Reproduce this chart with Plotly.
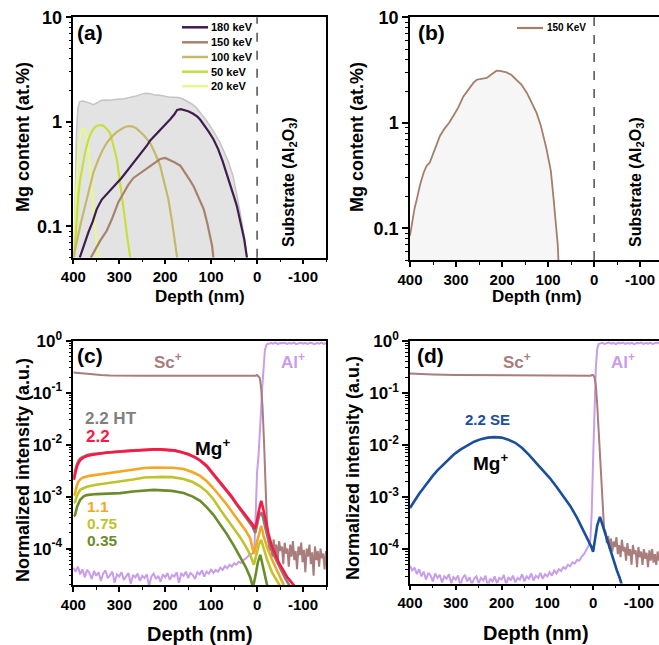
import plotly.graph_objects as go

W, H = 659, 645
FONT = "Liberation Sans, Arial, sans-serif"

# ---------------- (a) SRIM-type Mg profiles (at.%) vs depth (nm) ----------------
env_x = [399, 397, 395, 393, 390, 386, 380, 372, 364, 356, 348, 340, 330, 320, 310, 300, 290, 280, 270, 260,
         250, 242, 232, 222, 212, 202, 192, 182, 172, 162, 152, 142, 132, 122, 112, 102, 92, 82, 72, 62,
         52, 44, 36, 28, 22]
env_y = [0.05, 0.1, 0.3, 0.8, 1.35, 1.55, 1.58, 1.55, 1.5, 1.46, 1.52, 1.6, 1.62, 1.61, 1.63, 1.64, 1.66, 1.7, 1.73, 1.78,
         1.85, 1.87, 1.85, 1.8, 1.79, 1.75, 1.73, 1.72, 1.71, 1.66, 1.58, 1.48, 1.36, 1.2, 1.05, 0.91, 0.78, 0.65, 0.52, 0.41,
         0.3, 0.2, 0.13, 0.08, 0.05]

k180_x = [386, 380, 372, 367, 358, 349, 338, 325, 315, 305, 295, 285, 275, 269, 260, 250, 240, 233, 222, 212,
          202, 196, 188, 180, 174, 166, 158, 150, 140, 130, 124, 115, 105, 95, 85, 75, 66, 58, 50, 44, 36, 28, 22]
k180_y = [0.05, 0.06, 0.077, 0.088, 0.11, 0.146, 0.18, 0.21, 0.235, 0.26, 0.29, 0.33, 0.37, 0.40, 0.45, 0.52, 0.59, 0.66, 0.74, 0.82,
          0.92, 0.98, 1.07, 1.18, 1.3, 1.32, 1.3, 1.26, 1.2, 1.12, 1.05, 0.93, 0.8, 0.68, 0.55, 0.42, 0.32, 0.25, 0.19, 0.156, 0.11, 0.075, 0.05]

k150_x = [362, 352, 342, 327, 315, 302, 290, 280, 269, 255, 240, 225, 211, 200, 190, 180, 167, 155, 145, 138,
          128, 116, 108, 102, 98, 95]
k150_y = [0.05, 0.06, 0.072, 0.091, 0.12, 0.17, 0.21, 0.25, 0.29, 0.32, 0.36, 0.4, 0.44, 0.45, 0.43, 0.41, 0.38, 0.32, 0.27, 0.24,
          0.19, 0.145, 0.105, 0.08, 0.065, 0.05]

k100_x = [400, 394, 389, 383, 378, 371, 364, 356, 345, 335, 327, 315, 305, 298, 290, 280, 270, 262, 255, 245,
          233, 222, 211, 202, 193, 185, 178, 174]
k100_y = [0.05, 0.068, 0.088, 0.11, 0.135, 0.18, 0.25, 0.33, 0.44, 0.55, 0.63, 0.73, 0.8, 0.84, 0.88, 0.91, 0.9, 0.86, 0.81, 0.73,
          0.63, 0.5, 0.38, 0.27, 0.18, 0.11, 0.07, 0.05]

k50_x = [398, 395, 392, 389, 385, 380, 374, 367, 360, 354, 349, 342, 335, 328, 320, 313, 305, 300, 294, 288, 282, 276]
k50_y = [0.05, 0.08, 0.13, 0.2, 0.28, 0.38, 0.52, 0.68, 0.8, 0.88, 0.91, 0.93, 0.92, 0.86, 0.78, 0.6, 0.43, 0.3, 0.2, 0.12, 0.075, 0.05]

k20_x = [399, 397, 394, 391, 388, 385, 381, 378, 374, 370, 366, 362, 358, 354, 350, 346]
k20_y = [0.05, 0.1, 0.2, 0.38, 0.58, 0.74, 0.84, 0.86, 0.82, 0.7, 0.5, 0.3, 0.18, 0.11, 0.075, 0.05]

legend_a = ["180 keV", "150 keV", "100 keV", "50 keV", "20 keV"]

# ---------------- (b) 150 keV profile ----------------
b_x = [400, 398, 394, 390, 385, 378, 370, 364, 357, 350, 342, 335, 325, 315, 306, 295, 284, 272, 262, 255,
       245, 233, 222, 212, 205, 198, 190, 180, 168, 158, 146, 136, 125, 116, 110, 104, 99, 94, 88, 84,
       81, 79, 77.5]
b_y = [0.085, 0.098, 0.125, 0.155, 0.19, 0.26, 0.34, 0.39, 0.42, 0.5, 0.62, 0.75, 0.88, 1.0, 1.16, 1.4, 1.78, 2.1, 2.4, 2.56,
       2.62, 2.66, 2.9, 3.12, 3.1, 3.06, 3.0, 2.85, 2.56, 2.3, 1.92, 1.55, 1.24, 0.95, 0.75, 0.58, 0.45, 0.35, 0.19, 0.13,
       0.092, 0.07, 0.05]

# ---------------- (c) SIMS, Mg implanted at several fluences ----------------
mg22_x = [399, 396, 392, 388, 384, 378, 370, 360, 350, 340, 325, 310, 298, 285, 270, 255, 240, 226, 210, 195,
          180, 165, 150, 135, 124, 110, 95, 80, 66, 55, 44, 35, 25, 15, 10, 5, 1, -3, -6, -9,
          -13, -18, -25, -32, -40, -48, -56, -65, -74, -84]
mg22_y = [2.09e-3, 2.82e-3, 3.80e-3, 4.57e-3, 5.13e-3, 5.62e-3, 6.03e-3, 6.31e-3, 6.61e-3, 6.76e-3,
          7.08e-3, 7.24e-3, 7.41e-3, 7.59e-3, 7.76e-3, 7.94e-3, 8.04e-3, 8.13e-3, 8.13e-3, 8.04e-3,
          7.76e-3, 7.24e-3, 6.61e-3, 5.75e-3, 5.01e-3, 3.98e-3, 2.75e-3, 1.86e-3, 1.32e-3, 1.0e-3,
          7.24e-4, 5.75e-4, 4.47e-4, 3.47e-4, 2.95e-4, 2.40e-4, 3.16e-4, 5.01e-4, 7.08e-4, 8.32e-4,
          6.03e-4, 3.55e-4, 1.91e-4, 1.12e-4, 7.59e-5, 5.25e-5, 3.98e-5, 2.88e-5, 2.29e-5, 1.78e-5]

mg22ht_x = [399, 396, 392, 388, 384, 378, 370, 360, 350, 340, 325, 310, 298, 285, 270, 255, 240, 226, 210, 195,
            180, 165, 150, 135, 124, 110, 95, 80, 66, 55, 44, 35, 25, 15, 10, 4, 0, -4, -9, -13,
            -18, -25, -35, -48, -60, -73]
mg22ht_y = [2.19e-3, 3.16e-3, 4.17e-3, 5.01e-3, 5.50e-3, 5.89e-3, 6.31e-3, 6.61e-3, 6.76e-3, 6.92e-3,
            7.08e-3, 7.24e-3, 7.41e-3, 7.59e-3, 7.76e-3, 7.94e-3, 7.94e-3, 8.04e-3, 8.04e-3, 7.94e-3,
            7.67e-3, 7.16e-3, 6.46e-3, 5.62e-3, 4.90e-3, 3.80e-3, 2.63e-3, 1.78e-3, 1.26e-3, 9.55e-4,
            6.92e-4, 5.37e-4, 4.17e-4, 3.16e-4, 2.63e-4, 2.0e-4, 2.82e-4, 4.17e-4, 5.01e-4, 3.98e-4,
            2.51e-4, 1.41e-4, 7.94e-5, 4.47e-5, 2.82e-5, 1.78e-5]

mg11_x = [399, 396, 392, 389, 384, 378, 365, 349, 325, 298, 270, 245, 225, 206, 185, 160, 140, 124, 110, 95,
          80, 66, 50, 37, 25, 15, 7, 1, -4, -9, -14, -22, -32, -44, -58]
mg11_y = [1.05e-3, 1.17e-3, 1.66e-3, 1.95e-3, 2.19e-3, 2.34e-3, 2.51e-3, 2.63e-3, 2.82e-3, 3.02e-3,
          3.31e-3, 3.55e-3, 3.63e-3, 3.63e-3, 3.59e-3, 3.39e-3, 2.95e-3, 2.51e-3, 2.0e-3, 1.45e-3,
          1.0e-3, 7.08e-4, 4.47e-4, 3.16e-4, 2.24e-4, 1.58e-4, 7.94e-5, 1.26e-4, 2.0e-4, 2.75e-4,
          1.78e-4, 1.05e-4, 6.31e-5, 3.80e-5, 2.0e-5]

mg075_x = [399, 396, 392, 388, 385, 378, 371, 350, 325, 298, 270, 245, 225, 206, 185, 160, 140, 124, 110, 95,
           80, 66, 50, 37, 25, 15, 7, 1, -4, -9, -14, -22, -32, -44, -52]
mg075_y = [7.59e-4, 7.94e-4, 1.05e-3, 1.26e-3, 1.35e-3, 1.45e-3, 1.55e-3, 1.70e-3, 1.82e-3, 1.95e-3,
           2.14e-3, 2.34e-3, 2.40e-3, 2.40e-3, 2.37e-3, 2.19e-3, 1.91e-3, 1.58e-3, 1.26e-3, 8.91e-4,
           5.62e-4, 3.80e-4, 2.51e-4, 1.66e-4, 1.12e-4, 7.59e-5, 4.90e-5, 7.94e-5, 1.20e-4, 1.48e-4,
           1.0e-4, 6.03e-5, 3.55e-5, 2.40e-5, 1.78e-5]

mg035_x = [399, 396, 392, 388, 385, 378, 371, 350, 325, 298, 270, 245, 225, 206, 185, 160, 140, 124, 110, 95,
           80, 66, 50, 37, 25, 15, 9, 3, -2, -7, -12, -18, -23]
mg035_y = [4.17e-4, 4.47e-4, 6.31e-4, 7.94e-4, 8.71e-4, 1.0e-3, 1.07e-3, 1.12e-3, 1.15e-3, 1.17e-3,
           1.26e-3, 1.32e-3, 1.35e-3, 1.32e-3, 1.29e-3, 1.17e-3, 1.0e-3, 8.32e-4, 6.31e-4, 4.47e-4,
           2.88e-4, 1.91e-4, 1.12e-4, 7.08e-5, 4.47e-5, 2.82e-5, 1.78e-5, 3.16e-5, 5.62e-5, 7.59e-5,
           5.01e-5, 2.82e-5, 1.78e-5]

# Sc+ matrix signal (c)
sc_c_x = [400, 390, 380, 370, 360, 350, 340, 320, 300, 250, 200, 150, 100, 50, 20, 8, 3, 0, -3, -6,
          -9, -12, -15, -18, -21]
sc_c_y = [0.245, 0.24, 0.235, 0.23, 0.226, 0.222, 0.219, 0.215, 0.213, 0.212, 0.211, 0.21, 0.21, 0.209, 0.209,
          0.208, 0.212, 0.218, 0.2, 0.19, 0.12, 0.05, 0.012, 2.0e-3, 4.0e-4]
sc_c_tail_x = list(range(-24, -151, -3))
sc_c_tail_y = [1.6e-4, 0.9e-4, 1.3e-4, 0.7e-4, 1.5e-4, 0.8e-4, 1.2e-4, 0.6e-4, 1.4e-4, 0.9e-4,
               1.1e-4, 0.5e-4, 1.3e-4, 0.8e-4, 1.0e-4, 0.45e-4, 1.2e-4, 0.7e-4, 1.4e-4, 0.6e-4,
               0.9e-4, 0.4e-4, 1.1e-4, 0.75e-4, 1.3e-4, 0.55e-4, 0.95e-4, 0.35e-4, 1.0e-4, 0.7e-4,
               1.2e-4, 0.5e-4, 0.85e-4, 0.3e-4, 1.1e-4, 0.6e-4, 0.9e-4, 0.45e-4, 1.0e-4, 0.65e-4,
               0.8e-4, 0.4e-4, 0.9e-4]

# Al+ substrate signal (c)
al_c_low_x = list(range(400, 14, -5))
al_c_low_y = [4.3e-5, 3.6e-5, 4.5e-5, 3.2e-5, 4.0e-5, 2.8e-5, 3.9e-5, 3.4e-5, 2.6e-5, 3.7e-5,
              3.0e-5, 3.5e-5, 2.4e-5, 3.3e-5, 3.8e-5, 2.7e-5, 3.1e-5, 3.6e-5, 2.2e-5, 3.2e-5,
              2.9e-5, 3.5e-5, 2.5e-5, 3.0e-5, 3.4e-5, 2.1e-5, 3.1e-5, 2.8e-5, 3.3e-5, 2.4e-5,
              3.0e-5, 2.7e-5, 3.2e-5, 1.9e-5, 2.9e-5, 3.3e-5, 2.6e-5, 3.0e-5, 2.3e-5, 3.2e-5,
              2.8e-5, 3.4e-5, 2.5e-5, 3.1e-5, 2.9e-5, 3.5e-5, 2.2e-5, 3.3e-5, 3.0e-5, 3.6e-5,
              2.7e-5, 3.4e-5, 3.1e-5, 2.6e-5, 3.5e-5, 3.2e-5, 3.8e-5, 2.9e-5, 3.6e-5, 3.3e-5,
              4.0e-5, 3.4e-5, 3.9e-5, 3.6e-5, 4.3e-5, 3.9e-5, 4.6e-5, 4.2e-5, 4.9e-5, 4.5e-5,
              5.2e-5, 4.9e-5, 5.6e-5, 5.3e-5, 6.0e-5, 6.4e-5, 7.0e-5, 7.8e-5]
al_c_rise_x = [10, 6, 4, 2, 0, -3, -6, -9, -11, -14, -17, -20, -23]
al_c_rise_y = [8.0e-5, 1.0e-4, 2.5e-4, 1.0e-3, 3.0e-3, 6.0e-3, 1.5e-2, 5.0e-2, 0.12, 0.35, 0.65, 0.82, 0.88]
al_c_top_x = list(range(-25, -151, -5))
al_c_top_y = [0.87, 0.9, 0.88, 0.92, 0.86, 0.9, 0.89, 0.91, 0.87, 0.9,
              0.88, 0.92, 0.86, 0.89, 0.91, 0.88, 0.9, 0.87, 0.91, 0.89,
              0.86, 0.9, 0.88, 0.92, 0.87, 0.9]

# ---------------- (d) SIMS, 2.2 SE ----------------
se_x = [400, 390, 380, 370, 360, 350, 340, 330, 320, 305, 290, 275, 260, 245, 230, 215, 200, 185, 170, 155,
        140, 125, 110, 95, 80, 65, 50, 35, 21, 10, 4, 0, -4, -9, -15, -22, -30, -37, -45, -52, -58, -64]
se_y = [6.17e-4, 8.51e-4, 1.15e-3, 1.51e-3, 2.0e-3, 2.57e-3, 3.24e-3, 3.98e-3, 4.90e-3, 6.46e-3,
        8.13e-3, 9.77e-3, 1.15e-2, 1.29e-2, 1.38e-2, 1.41e-2, 1.38e-2, 1.26e-2, 1.10e-2, 8.71e-3,
        6.46e-3, 4.57e-3, 3.31e-3, 2.34e-3, 1.58e-3, 1.05e-3, 6.76e-4, 3.98e-4, 2.29e-4, 1.51e-4,
        1.12e-4, 8.91e-5, 1.58e-4, 2.82e-4, 4.17e-4, 2.63e-4, 1.51e-4, 9.33e-5, 6.03e-5, 3.89e-5,
        2.82e-5, 1.91e-5]

sc_d_x = [400, 380, 350, 300, 250, 200, 150, 100, 50, 20, 6, 2, 0, -3, -6, -9, -12, -15, -18, -21, -24]
sc_d_y = [0.235, 0.23, 0.225, 0.22, 0.218, 0.216, 0.215, 0.215, 0.215, 0.214, 0.213, 0.22, 0.22, 0.2, 0.14,
          0.06, 0.02, 6.0e-3, 1.5e-3, 5.0e-4, 2.5e-4]
sc_d_tail_x = list(range(-27, -151, -3))
sc_d_tail_y = [2.2e-4, 1.3e-4, 1.8e-4, 1.0e-4, 1.6e-4, 0.9e-4, 1.4e-4, 1.1e-4, 1.7e-4, 0.8e-4,
               1.2e-4, 0.7e-4, 1.5e-4, 0.9e-4, 1.1e-4, 0.6e-4, 1.3e-4, 0.75e-4, 1.0e-4, 0.5e-4,
               1.2e-4, 0.8e-4, 0.95e-4, 0.45e-4, 1.1e-4, 0.7e-4, 0.9e-4, 0.5e-4, 1.0e-4, 0.65e-4,
               0.85e-4, 0.45e-4, 0.95e-4, 0.6e-4, 1.0e-4, 0.55e-4, 0.8e-4, 0.5e-4, 0.9e-4, 0.6e-4,
               0.75e-4, 0.5e-4]

al_d_low_x = list(range(400, 9, -5))
al_d_low_y = [4.8e-5, 3.9e-5, 4.4e-5, 3.3e-5, 4.1e-5, 3.0e-5, 3.7e-5, 2.6e-5, 3.5e-5, 3.1e-5,
              2.4e-5, 3.4e-5, 2.8e-5, 3.2e-5, 2.3e-5, 3.0e-5, 2.7e-5, 3.3e-5, 2.2e-5, 2.9e-5,
              2.6e-5, 3.1e-5, 2.0e-5, 2.8e-5, 3.2e-5, 2.4e-5, 2.9e-5, 2.1e-5, 2.7e-5, 3.0e-5,
              2.2e-5, 2.8e-5, 2.5e-5, 3.1e-5, 1.9e-5, 2.7e-5, 2.4e-5, 3.0e-5, 2.2e-5, 2.8e-5,
              2.6e-5, 3.2e-5, 2.1e-5, 2.9e-5, 2.5e-5, 3.1e-5, 2.3e-5, 2.8e-5, 2.6e-5, 3.3e-5,
              2.4e-5, 3.0e-5, 2.7e-5, 3.4e-5, 2.5e-5, 3.1e-5, 2.8e-5, 3.5e-5, 2.7e-5, 3.3e-5,
              3.0e-5, 3.6e-5, 3.1e-5, 3.9e-5, 3.4e-5, 4.1e-5, 3.8e-5, 4.5e-5, 4.2e-5, 5.0e-5,
              4.7e-5, 5.6e-5, 5.3e-5, 6.2e-5, 6.0e-5, 7.2e-5, 8.0e-5, 9.5e-5, 1.15e-4]
al_d_rise_x = [6, 3, 0, -3, -6, -9, -12]
al_d_rise_y = [1.5e-4, 5.0e-4, 5.0e-3, 5.0e-2, 0.3, 0.7, 0.86]
al_d_top_x = list(range(-15, -151, -5))
al_d_top_y = [0.88, 0.91, 0.87, 0.9, 0.92, 0.88, 0.9, 0.86, 0.91, 0.89,
              0.92, 0.87, 0.9, 0.88, 0.91, 0.86, 0.9, 0.89, 0.92, 0.87,
              0.9, 0.88, 0.91, 0.87, 0.89, 0.92, 0.88, 0.9]

# ---------------- styling ----------------
C180, C150, C100, C50, C20 = "#3f1d4e", "#a8826c", "#c6b86a", "#c8de3c", "#e6f88e"
C_ENV_LINE, C_ENV_FILL = "#c4c4c4", "#e3e3e3"
C_SC, C_AL = "#a87d7b", "#c99de9"
C_HT, C_22, C_11, C_075, C_035, C_SE = "#7f7f7f", "#ff1744", "#f4a724", "#bfc42a", "#6b8c2a", "#1b4f9c"


def px(v):
    return v / W


def py(v):
    return 1 - v / H


fig = go.Figure()


def line(x, y, color, width, xa, ya, fill=None, fillcolor=None):
    fig.add_trace(go.Scatter(x=x, y=y, mode="lines", line=dict(color=color, width=width),
                             fill=fill, fillcolor=fillcolor, xaxis=xa, yaxis=ya,
                             showlegend=False, hoverinfo="skip"))


# (a)
line(env_x, env_y, C_ENV_LINE, 1.5, "x", "y", fill="tozeroy", fillcolor=C_ENV_FILL)
for xs, ys, c in [(k20_x, k20_y, C20), (k50_x, k50_y, C50), (k100_x, k100_y, C100),
                  (k150_x, k150_y, C150), (k180_x, k180_y, C180)]:
    line(xs, ys, c, 2.2, "x", "y")
# (b)
line(b_x, b_y, "#a47e69", 1.8, "x2", "y2", fill="tozeroy", fillcolor="#f6f6f6")
# (c)
line(al_c_low_x + al_c_rise_x + al_c_top_x, al_c_low_y + al_c_rise_y + al_c_top_y, C_AL, 2.0, "x3", "y3")
line(sc_c_x + sc_c_tail_x, sc_c_y + sc_c_tail_y, C_SC, 2.0, "x3", "y3")
for xs, ys, c in [(mg035_x, mg035_y, C_035), (mg075_x, mg075_y, C_075), (mg11_x, mg11_y, C_11),
                  (mg22ht_x, mg22ht_y, C_HT), (mg22_x, mg22_y, C_22)]:
    line(xs, ys, c, 2.6, "x3", "y3")
# (d)
line(al_d_low_x + al_d_rise_x + al_d_top_x, al_d_low_y + al_d_rise_y + al_d_top_y, C_AL, 2.0, "x4", "y4")
line(sc_d_x + sc_d_tail_x, sc_d_y + sc_d_tail_y, C_SC, 2.0, "x4", "y4")
line(se_x, se_y, C_SE, 2.6, "x4", "y4")

XT_VALS = [400, 300, 200, 100, 0, -100]
XT_TEXT = ["400", "300", "200", "100", "0", "-100"]
XT_MINOR = [350, 250, 150, 50, -50, -150]


def xaxis(domain, rng, anchor):
    return dict(domain=domain, range=rng, anchor=anchor, automargin=False, showline=True, mirror=True,
                linecolor="black", linewidth=1.5, ticks="outside", ticklen=5, tickwidth=1.5,
                tickcolor="black", tickmode="array", tickvals=XT_VALS, ticktext=XT_TEXT,
                minor=dict(ticks="outside", ticklen=3, tickwidth=1.2, tickcolor="black",
                           tickmode="array", tickvals=XT_MINOR, showgrid=False),
                showgrid=False, zeroline=False,
                tickfont=dict(family=FONT, size=15, color="black", weight="bold"))


def yaxis(domain, rng, anchor, vals, texts, size):
    minor_vals = [m * 10 ** e for e in range(-6, 2) for m in range(2, 10)]
    return dict(domain=domain, range=rng, anchor=anchor, automargin=False, type="log", showline=True,
                mirror=True, linecolor="black", linewidth=1.5, ticks="outside", ticklen=6, tickwidth=1.5,
                tickcolor="black", tickmode="array", tickvals=vals, ticktext=texts,
                minor=dict(ticks="outside", ticklen=3, tickwidth=1.0, tickcolor="black",
                           tickmode="array", tickvals=minor_vals, showgrid=False),
                showgrid=False, zeroline=False,
                tickfont=dict(family=FONT, size=size, color="black", weight="bold"))


A_TICKS = [0.1, 1, 10]
A_TEXT = ["0.1", "1", "10"]
C_TICKS = [1e-4, 1e-3, 1e-2, 1e-1, 1]
C_TEXT = ["10<sup>-4</sup>", "10<sup>-3</sup>", "10<sup>-2</sup>", "10<sup>-1</sup>", "10<sup>0</sup>"]

xa_dom = [px(73.3), px(326)]
xb_dom = [px(410), 1.0]

fig.update_layout(
    template="none",
    width=W, height=H, margin=dict(l=0, r=0, t=0, b=0, pad=0, autoexpand=False),
    paper_bgcolor="white", plot_bgcolor="white", showlegend=False,
    font=dict(family=FONT, color="black"),
    xaxis=xaxis(xa_dom, [400, -150], "y"),
    yaxis=yaxis([py(257.7), py(17.3)], [-1.301, 1], "x", A_TICKS, A_TEXT, 18),
    xaxis2=xaxis(xb_dom, [400, -141], "y2"),
    yaxis2=yaxis([py(260), py(17.3)], [-1.301, 1], "x2", A_TICKS, A_TEXT, 18),
    xaxis3=xaxis(xa_dom, [400, -150], "y3"),
    yaxis3=yaxis([py(585), py(340.7)], [-4.7, 0], "x3", C_TICKS, C_TEXT, 17),
    xaxis4=xaxis(xb_dom, [400, -144], "y4"),
    yaxis4=yaxis([py(583.5), py(340.7)], [-4.66, 0], "x4", C_TICKS, C_TEXT, 17),
)

shapes = []
# interface dashed lines in (a), (b)
for xr, yr in [("x", "y domain"), ("x2", "y2 domain")]:
    shapes.append(dict(type="line", xref=xr, yref=yr, x0=0, x1=0, y0=0, y1=1,
                       line=dict(color="#333333", width=1.3, dash="dash")))

annotations = []


def ann(text, x, y, size, color="black", xanchor="center", angle=0):
    annotations.append(dict(text=text, x=px(x), y=py(y), xref="paper", yref="paper",
                            xanchor=xanchor, yanchor="middle", showarrow=False, textangle=angle,
                            font=dict(family=FONT, size=size, color=color)))


# legend of (a), drawn by hand to match the compact spacing
leg_rows = [27.3, 42.3, 57.0, 71.7, 86.2]
for name, c, yy in zip(legend_a, [C180, C150, C100, C50, C20], leg_rows):
    shapes.append(dict(type="line", xref="paper", yref="paper", x0=px(182), x1=px(208),
                       y0=py(yy), y1=py(yy), line=dict(color=c, width=2.5)))
    ann("<b>%s</b>" % name, 209, yy, 11, xanchor="left")
# legend of (b)
shapes.append(dict(type="line", xref="paper", yref="paper", x0=px(517), x1=px(543),
                   y0=py(28), y1=py(28), line=dict(color="#a47e69", width=2.2)))
ann("<b>150 KeV</b>", 545, 28, 10, xanchor="left")

# panel letters
ann("<b>(a)</b>", 90, 32, 21)
ann("<b>(b)</b>", 431, 33, 21)
ann("<b>(c)</b>", 90, 355, 21)
ann("<b>(d)</b>", 430, 355, 21)

# axis titles
ann("<b>Mg content (at.%)</b>", 23, 137, 18, angle=-90)
ann("<b>Mg content (at.%)</b>", 357, 137, 18, angle=-90)
ann("<b>Normalized intensity (a.u.)</b>", 23, 470, 18, angle=-90)
ann("<b>Normalized intensity (a.u.)</b>", 353, 468, 18, angle=-90)
ann("<b>Depth (nm)</b>", 200, 296, 17)
ann("<b>Depth (nm)</b>", 537, 296, 17)
ann("<b>Depth (nm)</b>", 200, 634, 20)
ann("<b>Depth (nm)</b>", 536, 633, 20)

# substrate labels
ann("<b>Substrate (Al<sub>2</sub>O<sub>3</sub>)</b>", 290, 182, 16, angle=-90)
ann("<b>Substrate (Al<sub>2</sub>O<sub>3</sub>)</b>", 637, 182, 16, angle=-90)

# species labels
ann("<b>Sc<sup>+</sup></b>", 168, 361, 17, C_SC)
ann("<b>Al<sup>+</sup></b>", 293, 361, 17, C_AL)
ann("<b>Sc<sup>+</sup></b>", 517, 361, 17, C_SC)
ann("<b>Al<sup>+</sup></b>", 623, 361, 17, C_AL)
ann("<b>Mg<sup>+</sup></b>", 213, 447, 19)
ann("<b>Mg<sup>+</sup></b>", 491, 462, 19)

# fluence labels
ann("<b>2.2 HT</b>", 83, 418, 17, C_HT, xanchor="left")
ann("<b>2.2</b>", 84, 436, 17, C_22, xanchor="left")
ann("<b>1.1</b>", 85, 506, 15.5, C_11, xanchor="left")
ann("<b>0.75</b>", 85, 523, 15.5, C_075, xanchor="left")
ann("<b>0.35</b>", 85, 540, 15.5, C_035, xanchor="left")
ann("<b>2.2 SE</b>", 488, 419, 15, C_SE)

fig.update_layout(shapes=shapes, annotations=annotations)
fig.write_html("out.html")
